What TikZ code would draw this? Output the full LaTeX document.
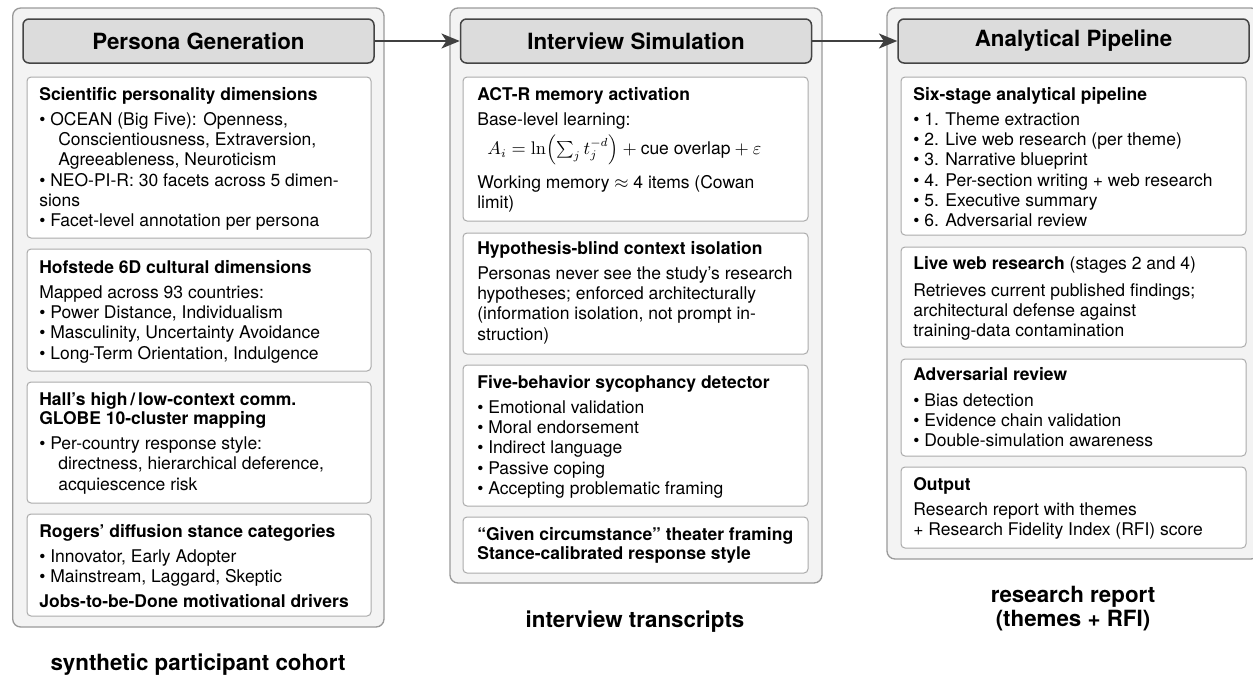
\documentclass[tikz,border=0pt]{standalone}
\usepackage[no-math]{fontspec}
\setmainfont{TeX Gyre Heros}
\usetikzlibrary{arrows.meta}
\definecolor{outerfill}{HTML}{F3F3F3}
\definecolor{outerdraw}{HTML}{9A9A9A}
\definecolor{hdrfill}{HTML}{DCDCDC}
\definecolor{hdrdraw}{HTML}{444444}
\definecolor{innerdraw}{HTML}{ABABAB}
\definecolor{arrcol}{HTML}{404040}
\newcommand{\bodyfont}{\fontsize{10.5}{12.12}\selectfont}
\newcommand{\bigfont}{\fontsize{13.4}{14.4}\selectfont\bfseries}
\newcommand{\bl}{\textbullet\ }
\newcommand{\hang}{\hspace*{11.4pt}}
\newcommand{\boxtext}[1]{\parbox[t]{230pt}{\raggedright #1}}
\tikzset{
  outerbox/.style={draw=outerdraw, fill=outerfill, line width=0.8pt, rounded corners=4.8pt},
  innerbox/.style={draw=innerdraw, fill=white, line width=0.6pt, rounded corners=2.4pt},
  hdr/.style={draw=hdrdraw, fill=hdrfill, line width=0.9pt, rounded corners=3.6pt,
    minimum width=210.6pt, minimum height=26.4pt, inner sep=0pt, font=\bigfont},
  txt/.style={anchor=base west, inner sep=0pt, font=\bodyfont},
  lbl/.style={font=\bigfont, align=center, inner sep=0pt},
  arr/.style={draw=arrcol, line width=1.2pt, -{Stealth[length=11pt,width=9pt,inset=3pt]}}
}
\begin{document}
\begin{tikzpicture}[x=0.6pt,y=-0.6pt]
\useasboundingbox (0,0) rectangle (1253,677);
% ---------- outer panels ----------
\draw[outerbox] (12.7,8) rectangle (384,627);
\draw[outerbox] (450,8) rectangle (822,583);
\draw[outerbox] (887,8) rectangle (1259,559);
% ---------- headers ----------
\node[hdr] (h1) at (198.5,41) {Persona Generation};
\node[hdr] (h2) at (636,41) {Interview Simulation};
\node[hdr] (h3) at (1073.5,41) {Analytical Pipeline};
\draw[arr] (h1.east) -- (h2.west);
\draw[arr] (h2.east) -- (h3.west);
% ---------- left column ----------
\draw[innerbox] (27,77) rectangle (371,238);
\draw[innerbox] (27,249) rectangle (371,371);
\draw[innerbox] (27,382) rectangle (371,503);
\draw[innerbox] (27,514) rectangle (371,616);
\node[txt] (ta1) at (39,100.5) {\boxtext{\textbf{Scientific personality dimensions}\\[2.9pt]
\bl OCEAN (Big Five): Openness,\\
\hang Conscientiousness, Extraversion,\\
\hang Agreeableness, Neuroticism\\
\bl NEO-PI-R: 30 facets across 5 dimen-\\
sions\\
\bl Facet-level annotation per persona}};
\node[txt] (ta2) at (39,273.5) {\boxtext{\textbf{Hofstede 6D cultural dimensions}\\[2.9pt]
Mapped across 93 countries:\\
\bl Power Distance, Individualism\\
\bl Masculinity, Uncertainty Avoidance\\
\bl Long-Term Orientation, Indulgence}};
\node[txt] (ta3) at (39,405.5) {\boxtext{\textbf{Hall's high\,/\,low-context comm.}\\[-0.6pt]
\textbf{GLOBE 10-cluster mapping}\\[2.9pt]
\bl Per-country response style:\\
\hang directness, hierarchical deference,\\
\hang acquiescence risk}};
\node[txt] (ta4) at (39,537.5) {\boxtext{\textbf{Rogers' diffusion stance categories}\\[2.9pt]
\bl Innovator, Early Adopter\\
\bl Mainstream, Laggard, Skeptic\\[2.9pt]
\textbf{Jobs-to-be-Done motivational drivers}}};
\node[lbl] (la) at (198,665) {synthetic participant cohort};
% ---------- middle column ----------
\draw[innerbox] (463,77) rectangle (808,221);
\draw[innerbox] (463,233) rectangle (808,354);
\draw[innerbox] (463,365) rectangle (808,506);
\draw[innerbox] (463,517) rectangle (808,573);
\node[txt] (tb1) at (477,100.5) {\boxtext{\textbf{ACT-R memory activation}\\[2.9pt]
Base-level learning:\\[5.3pt]
\hspace*{6pt}\smash{$A_i = \ln\Bigl(\textstyle\sum_j t_j^{-d}\Bigr) + \mbox{cue overlap} + \varepsilon$}\\[8.3pt]
Working memory $\approx$ 4 items (Cowan\\
limit)}};
\node[txt] (tb2) at (477,254.5) {\boxtext{\textbf{Hypothesis-blind context isolation}\\[2.9pt]
Personas never see the study's research\\
hypotheses; enforced architecturally\\
(information isolation, not prompt in-\\
struction)}};
\node[txt] (tb3) at (477,388.5) {\boxtext{\textbf{Five-behavior sycophancy detector}\\[2.9pt]
\bl Emotional validation\\
\bl Moral endorsement\\
\bl Indirect language\\
\bl Passive coping\\
\bl Accepting problematic framing}};
\node[txt] (tb4) at (477,540.5) {\boxtext{\textbf{``Given circumstance'' theater framing}\\[-0.6pt]
\textbf{Stance-calibrated response style}}};
\node[lbl] (lb) at (635,622) {interview transcripts};
% ---------- right column ----------
\draw[innerbox] (901,77) rectangle (1246,235);
\draw[innerbox] (901,247) rectangle (1246,347);
\draw[innerbox] (901,359) rectangle (1246,456);
\draw[innerbox] (901,467) rectangle (1246,548);
\node[txt] (tc1) at (913,100.5) {\boxtext{\textbf{Six-stage analytical pipeline}\\[2.9pt]
\bl 1. Theme extraction\\
\bl 2. Live web research (per theme)\\
\bl 3. Narrative blueprint\\
\bl 4. Per-section writing + web research\\
\bl 5. Executive summary\\
\bl 6. Adversarial review}};
\node[txt] (tc2) at (913,269.5) {\boxtext{\textbf{Live web research} (stages 2 and 4)\\[4pt]
Retrieves current published findings;\\
architectural defense against\\
training-data contamination}};
\node[txt] (tc3) at (913,380.5) {\boxtext{\textbf{Adversarial review}\\[3.5pt]
\bl Bias detection\\
\bl Evidence chain validation\\
\bl Double-simulation awareness}};
\node[txt] (tc4) at (913,490.5) {\boxtext{\textbf{Output}\\[2.9pt]
Research report with themes\\
+ Research Fidelity Index (RFI) score}};
\node[lbl] (lc) at (1073,609) {research report\\(themes + RFI)};
\end{tikzpicture}
\end{document}
